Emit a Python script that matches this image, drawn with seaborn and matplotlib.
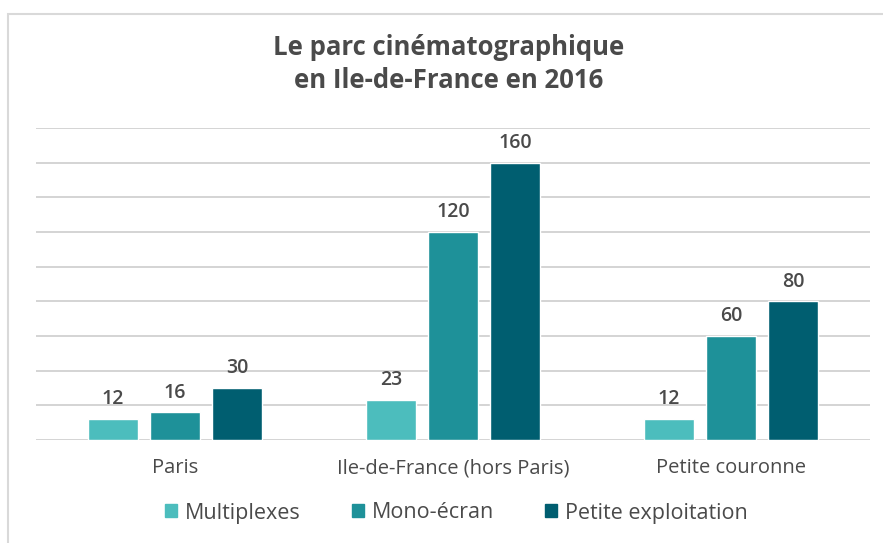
import numpy as np
import pandas as pd
import matplotlib.pyplot as plt
import matplotlib.patches as mpatches
import seaborn as sns

zones = ["Paris", "Ile-de-France (hors Paris)", "Petite couronne"]
series = ["Multiplexes", "Mono-écran", "Petite exploitation"]
multiplexes = [12, 23, 12]
mono_ecran = [16, 120, 60]
petite_exploitation = [30, 160, 80]
colors = ["#4cbdbd", "#1e9199", "#005e70"]

df = pd.DataFrame({
    "zone": zones * 3,
    "type": [s for s in series for _ in zones],
    "n": multiplexes + mono_ecran + petite_exploitation,
})

sns.set_style("white")
plt.rcParams["font.family"] = ["Open Sans", "DejaVu Sans"]
text_col = "#4a4a4a"

fig = plt.figure(figsize=(8.83, 5.43), dpi=100)
ax = fig.add_axes([36 / 883, 1 - 440 / 543, (870 - 36) / 883, (440 - 128) / 543])

sns.barplot(data=df, x="zone", y="n", hue="type", palette=colors, saturation=1,
            width=0.67, gap=0.2, ax=ax, legend=False, zorder=3)

ax.set_ylim(0, 180)
ax.set_xlim(-0.5, 2.5)
ax.set_yticks(np.arange(0, 181, 20))
ax.set_yticklabels([])
ax.tick_params(axis="y", length=0)
ax.tick_params(axis="x", length=0, labelsize=14.5, labelcolor=text_col, pad=13)
ax.grid(axis="y", color="#d4d4d4", linewidth=1.4, zorder=0)
ax.set_axisbelow(True)
for s in ax.spines.values():
    s.set_visible(False)
ax.set_xlabel("")
ax.set_ylabel("")

for c in ax.containers:
    ax.bar_label(c, padding=7, fontsize=14, color=text_col, fontweight="semibold")

fig.text(0.508, 1 - 64 / 543, "Le parc cinématographique\nen Ile-de-France en 2016",
         ha="center", va="center", fontsize=18.5, fontweight="bold",
         color=text_col, linespacing=1.25)

handles = [mpatches.Patch(color=c, label=s) for c, s in zip(colors, series)]
fig.legend(handles=handles, loc="center", bbox_to_anchor=(0.517, 1 - 513 / 543),
           ncol=3, frameon=False, fontsize=15.5, labelcolor=text_col,
           handlelength=0.55, handleheight=0.55, handletextpad=0.35, columnspacing=2.4)

# light frame around the chart
frame = mpatches.Rectangle((8 / 883, -0.05), 1.0, 1 - 14 / 543 + 0.05,
                           transform=fig.transFigure, fill=False,
                           edgecolor="#d9d9d9", linewidth=1.5)
fig.patches.append(frame)

fig.savefig("out.png", dpi=100)
